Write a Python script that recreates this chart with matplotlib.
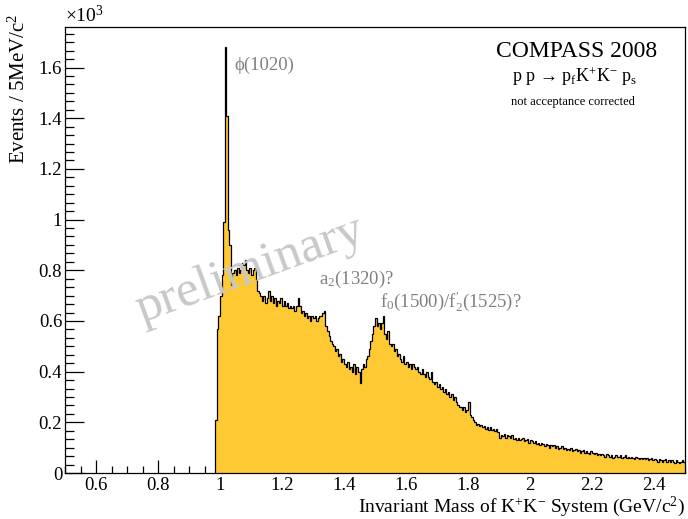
import numpy as np
import matplotlib
matplotlib.use("Agg")
import matplotlib.pyplot as plt
from matplotlib.ticker import MultipleLocator, FuncFormatter

plt.rcParams['font.family'] = ['Liberation Serif', 'DejaVu Serif']
plt.rcParams['mathtext.fontset'] = 'custom'
plt.rcParams['mathtext.rm'] = 'Liberation Serif'
plt.rcParams['mathtext.it'] = 'Liberation Serif:italic'
plt.rcParams['mathtext.bf'] = 'Liberation Serif:bold'

# ---------------- data (events per 5 MeV bin, in units of 10^3) ----------------
bin_start = 0.985
bin_width = 0.005

counts_threshold = [0.21, 0.57, 0.62, 0.70, 0.78, 0.99, 1.68, 1.41, 0.96, 0.90]          # 0.985-1.035
counts_low = [
    0.74, 0.79, 0.80, 0.78, 0.81, 0.79, 0.80, 0.83, 0.82, 0.84,   # 1.035
    0.80, 0.79, 0.81, 0.78, 0.80, 0.81, 0.76, 0.72, 0.71, 0.70,   # 1.085
    0.68, 0.70, 0.67, 0.69, 0.72, 0.68, 0.70, 0.67, 0.69, 0.66,   # 1.135
    0.68, 0.67, 0.69, 0.66, 0.68, 0.66, 0.67, 0.65, 0.66, 0.65,   # 1.185
    0.66, 0.64, 0.66, 0.69, 0.66, 0.63, 0.64, 0.62, 0.63, 0.61,   # 1.235
    0.62, 0.60, 0.62, 0.61, 0.62, 0.60, 0.61, 0.62, 0.62, 0.63,   # 1.285
]
counts_mid = [
    0.64, 0.58, 0.56, 0.54, 0.52, 0.51, 0.50, 0.48, 0.49, 0.46,   # 1.335
    0.47, 0.44, 0.45, 0.43, 0.42, 0.44, 0.41, 0.42, 0.40, 0.43,   # 1.385
    0.39, 0.42, 0.40, 0.355, 0.41, 0.43, 0.42, 0.45, 0.46, 0.49,  # 1.435
    0.52, 0.55, 0.58, 0.61, 0.58, 0.59, 0.57, 0.59, 0.62, 0.55,   # 1.485
    0.53, 0.56, 0.51, 0.50, 0.51, 0.48, 0.49, 0.46, 0.47, 0.45,   # 1.535
    0.44, 0.46, 0.43, 0.44, 0.42, 0.43, 0.41, 0.43, 0.42, 0.41,   # 1.585
    0.42, 0.40, 0.39, 0.41, 0.39, 0.38, 0.40, 0.38, 0.37, 0.40,   # 1.635
]
counts_high = [
    0.36, 0.35, 0.36, 0.34, 0.35, 0.33, 0.34, 0.32, 0.33, 0.31,   # 1.685
    0.32, 0.30, 0.31, 0.29, 0.30, 0.28, 0.27, 0.26, 0.26, 0.25,   # 1.735
    0.26, 0.24, 0.25, 0.28, 0.23, 0.22, 0.21, 0.20, 0.19, 0.195,  # 1.785
    0.185, 0.19, 0.18, 0.185, 0.175, 0.18, 0.17, 0.18, 0.17, 0.175,  # 1.835
    0.165, 0.175, 0.16, 0.14, 0.15, 0.145, 0.155, 0.14, 0.15, 0.145,  # 1.885
    0.14, 0.15, 0.135, 0.14, 0.13, 0.14, 0.13, 0.135, 0.14, 0.125,   # 1.935
    0.13, 0.135, 0.12, 0.13, 0.125, 0.12, 0.125, 0.115, 0.12, 0.11,  # 1.985
]
counts_tail = [
    0.12, 0.115, 0.105, 0.115, 0.11, 0.10, 0.11, 0.105, 0.11, 0.10,   # 2.035
    0.105, 0.095, 0.10, 0.105, 0.095, 0.10, 0.09, 0.095, 0.09, 0.10,  # 2.085
    0.085, 0.09, 0.095, 0.085, 0.09, 0.08, 0.085, 0.09, 0.08, 0.085,  # 2.135
    0.08, 0.075, 0.085, 0.08, 0.075, 0.08, 0.07, 0.075, 0.07, 0.075,  # 2.185
    0.07, 0.065, 0.075, 0.07, 0.065, 0.07, 0.06, 0.065, 0.07, 0.065,  # 2.235
    0.065, 0.07, 0.06, 0.065, 0.07, 0.06, 0.065, 0.06, 0.065, 0.06,   # 2.285
    0.055, 0.065, 0.06, 0.055, 0.06, 0.055, 0.06, 0.055, 0.06, 0.05,  # 2.335
    0.055, 0.06, 0.05, 0.055, 0.05, 0.045, 0.055, 0.05, 0.045, 0.05,  # 2.385
    0.055, 0.045, 0.05, 0.045, 0.05, 0.045, 0.04, 0.05, 0.045, 0.04,  # 2.435
    0.045, 0.05, 0.045, 0.04, 0.045, 0.04,                             # 2.485
]

xticks = [0.6, 0.8, 1.0, 1.2, 1.4, 1.6, 1.8, 2.0, 2.2, 2.4]
yticks = [0, 0.2, 0.4, 0.6, 0.8, 1.0, 1.2, 1.4, 1.6]

counts = np.array(counts_threshold + counts_low + counts_mid + counts_high + counts_tail)
edges = bin_start + bin_width * np.arange(len(counts) + 1)

# ---------------- figure ----------------
W, H = 688, 519
fig = plt.figure(figsize=(W / 100, H / 100), dpi=100)
ax = fig.add_axes([65 / W, 46 / H, 620 / W, 446 / H])

fill_color = '#FFC933'
ax.stairs(counts, edges, fill=True, color=fill_color, zorder=2)
ax.stairs(counts, edges, color='black', lw=0.9, zorder=3)

ax.set_xlim(0.5, 2.5)
ax.set_ylim(0, 1.76)

ax.xaxis.set_major_locator(plt.FixedLocator(xticks))
ax.xaxis.set_minor_locator(MultipleLocator(0.05))
ax.yaxis.set_major_locator(plt.FixedLocator(yticks))
ax.yaxis.set_minor_locator(MultipleLocator(0.2 / 6))
fmt = FuncFormatter(lambda v, p: ('%g' % round(v, 3)))
ax.xaxis.set_major_formatter(fmt)
ax.yaxis.set_major_formatter(fmt)

ax.tick_params(axis='both', which='both', direction='in', top=False, right=False,
               width=0.9, labelsize=13.5, colors='black')
ax.tick_params(axis='x', which='major', length=9.6, pad=3)
ax.tick_params(axis='x', which='minor', length=4.8)
ax.tick_params(axis='y', which='major', length=13.4, pad=2)
ax.tick_params(axis='y', which='minor', length=6.7)
for s in ax.spines.values():
    s.set_linewidth(0.9)
    s.set_zorder(5)

def fx(px):
    return px / W

def fy(py):
    return 1 - py / H

fig.text(fx(65), fy(22), r'$\times$10$^{3}$', fontsize=14, ha='left', va='baseline')
fig.text(fx(19), fy(14), r'Events / 5MeV/c$^{2}$', fontsize=15, rotation=90,
         ha='center', va='top')
fig.text(fx(685), fy(512), r'Invariant Mass of K$^{+}$K$^{-}$ System (GeV/c$^{2}$)',
         fontsize=14, ha='right', va='baseline')

fig.text(fx(577), fy(57), 'COMPASS 2008', fontsize=17, ha='center', va='baseline')
fig.text(fx(574), fy(82), r'p p → p$_{\rm f}$K$^{+}$K$^{-}$ p$_{\rm s}$',
         fontsize=13, ha='center', va='baseline')
fig.text(fx(573), fy(105), 'not acceptance corrected', fontsize=9, ha='center',
         va='baseline')

gray = '#808080'
fig.text(fx(234), fy(70), 'ϕ(1020)', fontsize=13.5, color=gray, ha='left', va='baseline')
fig.text(fx(319), fy(284), r'a$_{2}$(1320)?', fontsize=13.5, color=gray, ha='left',
         va='baseline')
fig.text(fx(380), fy(307), r'f$_{0}$(1500)/f$^{\prime}_{2}$(1525)?', fontsize=13.5,
         color=gray, ha='left', va='baseline')

fig.text(fx(250), fy(270), 'preliminary', fontsize=37, color='#c8c8c8', rotation=20,
         ha='center', va='center', zorder=10)

fig.savefig('out.png', dpi=100)
